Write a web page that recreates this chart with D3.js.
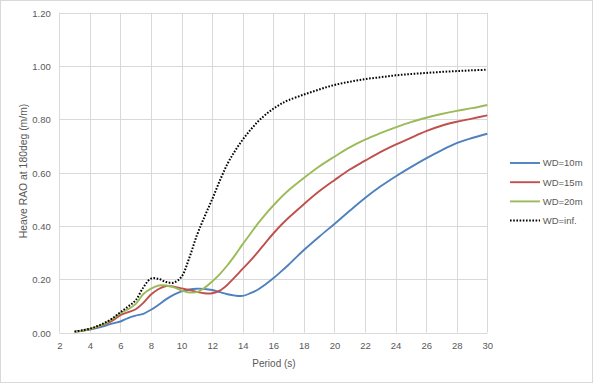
<!DOCTYPE html>
<html><head><meta charset="utf-8">
<script src="https://cdn.jsdelivr.net/npm/d3@7"></script>
<style>
html,body{margin:0;padding:0;background:#fff;}
svg{display:block;font-family:"Liberation Sans",Arial,sans-serif;}
</style></head>
<body>
<svg id="chart" width="594" height="384"></svg>
<script>
const periods = [3,3.5,4,4.5,5,5.5,6,6.5,7,7.5,8,8.5,9,9.5,10,10.5,11,11.5,12,12.5,13,13.5,14,14.5,15,15.5,16,16.5,17,18,19,20,21,22,23,24,25,26,27,28,29,30];
const wd10 = [0.004,0.007,0.012,0.018,0.026,0.035,0.042,0.055,0.064,0.071,0.086,0.105,0.126,0.143,0.155,0.162,0.165,0.164,0.160,0.152,0.144,0.139,0.138,0.148,0.162,0.182,0.204,0.229,0.255,0.310,0.360,0.408,0.457,0.505,0.548,0.586,0.621,0.654,0.684,0.711,0.730,0.746];
const wd15 = [0.004,0.008,0.014,0.022,0.032,0.046,0.066,0.077,0.088,0.112,0.143,0.164,0.175,0.173,0.166,0.160,0.153,0.148,0.148,0.158,0.180,0.209,0.240,0.270,0.303,0.338,0.372,0.403,0.431,0.482,0.530,0.572,0.612,0.645,0.677,0.705,0.731,0.756,0.776,0.791,0.803,0.815];
const wd20 = [0.004,0.008,0.014,0.023,0.035,0.052,0.074,0.088,0.108,0.145,0.165,0.177,0.177,0.170,0.158,0.151,0.152,0.168,0.192,0.220,0.253,0.291,0.332,0.371,0.410,0.445,0.477,0.507,0.534,0.580,0.623,0.660,0.695,0.724,0.748,0.770,0.790,0.806,0.820,0.832,0.842,0.854];
const wdInf = [0.004,0.009,0.015,0.025,0.038,0.055,0.077,0.098,0.122,0.170,0.203,0.202,0.190,0.188,0.210,0.280,0.365,0.435,0.500,0.570,0.633,0.682,0.724,0.760,0.792,0.818,0.840,0.858,0.872,0.893,0.912,0.929,0.941,0.951,0.958,0.965,0.970,0.974,0.978,0.981,0.984,0.986];
const seriesNames = ["WD=10m","WD=15m","WD=20m","WD=inf."];
const xTicks = [2,4,6,8,10,12,14,16,18,20,22,24,26,28,30];
const yTicks = [0,0.2,0.4,0.6,0.8,1.0,1.2];

const svg = d3.select("#chart");
const W = 594, H = 384;
const m = {left:59.3, right:594-487.3, top:12.7, bottom:384-332.7};

svg.append("rect").attr("x",0.5).attr("y",0.5).attr("width",592).attr("height",382)
  .attr("fill","#fff").attr("stroke","#d9d9d9").attr("stroke-width",1);

const x = d3.scaleLinear().domain([2,30]).range([m.left, W-m.right]);
const y = d3.scaleLinear().domain([0,1.2]).range([H-m.bottom, m.top]);

// gridlines
const g = svg.append("g");
g.selectAll("line.v").data(xTicks).enter().append("line")
  .attr("x1",d=>Math.round(x(d))+0.5).attr("x2",d=>Math.round(x(d))+0.5)
  .attr("y1",y(0)).attr("y2",y(1.2)).attr("stroke","#d9d9d9").attr("stroke-width",1);
g.selectAll("line.h").data(yTicks).enter().append("line")
  .attr("y1",d=>Math.round(y(d))+0.5).attr("y2",d=>Math.round(y(d))+0.5)
  .attr("x1",x(2)).attr("x2",x(30)).attr("stroke","#d9d9d9").attr("stroke-width",1);

// axes (labels only)
const xAxis = d3.axisBottom(x).tickValues(xTicks).tickSize(0).tickPadding(0).tickFormat(d3.format("d"));
const xa = svg.append("g").attr("transform",`translate(0,${y(0)})`).call(xAxis);
xa.select(".domain").remove();
xa.selectAll("text").attr("dy",null).attr("y",16.5).attr("fill","#595959").attr("font-size","9.5px").attr("font-family","Liberation Sans, Arial, sans-serif");

const yAxis = d3.axisLeft(y).tickValues(yTicks).tickSize(0).tickPadding(0).tickFormat(d3.format(".2f"));
const ya = svg.append("g").attr("transform",`translate(${x(2)},0)`).call(yAxis);
ya.select(".domain").remove();
ya.selectAll("text").attr("x",-8.6).attr("dy","0.35em").attr("fill","#595959").attr("font-size","9.5px").attr("font-family","Liberation Sans, Arial, sans-serif");

// titles
svg.append("text").attr("x",274).attr("y",367).attr("text-anchor","middle")
  .attr("fill","#595959").attr("font-size","10px").text("Period (s)");
svg.append("text").attr("transform","translate(26.5,171) rotate(-90)").attr("text-anchor","middle")
  .attr("fill","#595959").attr("font-size","10.4px").text("Heave RAO at 180deg (m/m)");

// lines
const line = d3.line().x(d=>x(d[0])).y(d=>y(d[1])).curve(d3.curveCatmullRom.alpha(0.5));
const series = [
  {name:seriesNames[0], vals:wd10, color:"#4F81BD", dash:null},
  {name:seriesNames[1], vals:wd15, color:"#C0504D", dash:null},
  {name:seriesNames[2], vals:wd20, color:"#9BBB59", dash:null},
  {name:seriesNames[3], vals:wdInf, color:"#000000", dash:"1.6,1.6"}
];
series.forEach(s=>{
  const p = svg.append("path").datum(periods.map((t,i)=>[t,s.vals[i]]))
    .attr("d",line).attr("fill","none").attr("stroke",s.color)
    .attr("stroke-width",s.dash?2:1.9).attr("stroke-linejoin","round");
  if(s.dash) p.attr("stroke-dasharray",s.dash);
});

// legend
const lg = svg.append("g");
series.forEach((s,i)=>{
  const yy = 163 + i*19.2;
  const l = lg.append("line").attr("x1",510).attr("x2",540).attr("y1",yy).attr("y2",yy)
    .attr("stroke",s.color).attr("stroke-width",s.dash?2:1.9);
  if(s.dash) l.attr("stroke-dasharray",s.dash);
  lg.append("text").attr("x",542.7).attr("y",yy).attr("dy","0.35em")
    .attr("fill","#595959").attr("font-size","9.5px").text(s.name);
});
</script>
</body></html>
